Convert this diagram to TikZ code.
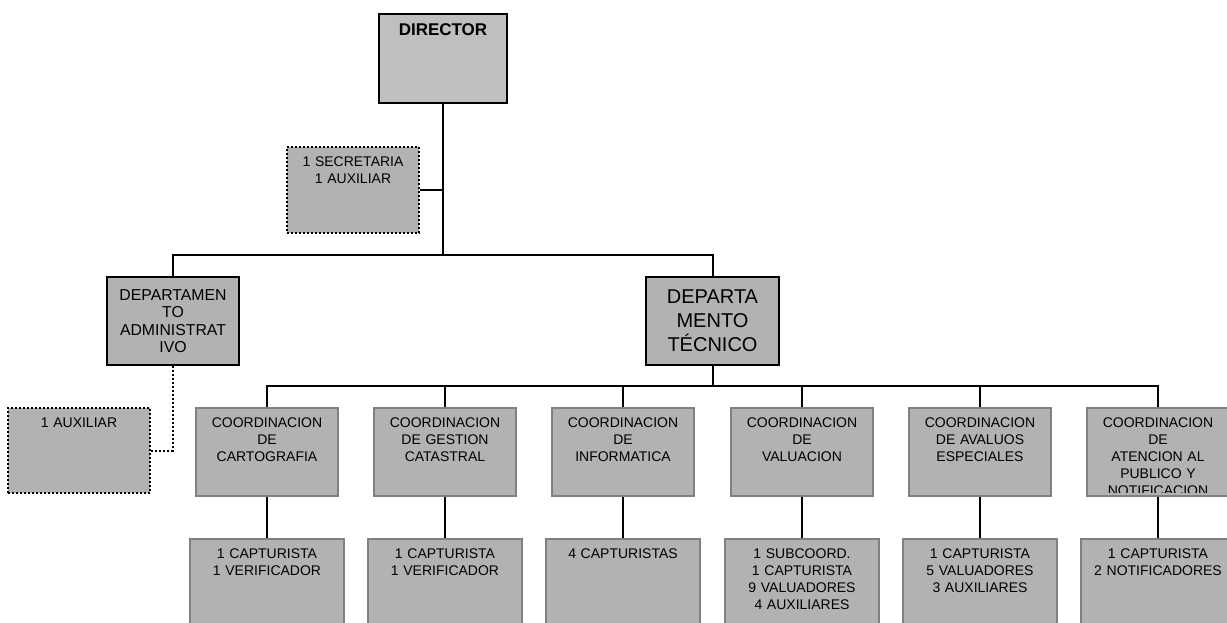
\documentclass[tikz,border=0pt]{standalone}
\usepackage{fontspec}
\setmainfont{Liberation Sans}
\usetikzlibrary{positioning}

\begin{document}
\begin{tikzpicture}[
  x=1pt, y=-1pt,
  txt/.style={inner xsep=0pt, inner ysep=9pt, text width=160pt, align=center,
              minimum width=0pt, minimum height=0pt, draw=none, fill=none,
              font=\fontsize{14}{16.9}\selectfont},
  toptxt/.style={path picture={
                 \clip ([yshift=4pt]path picture bounding box.south west)
                       rectangle (path picture bounding box.north east);
                 \node[txt, anchor=north] at (path picture bounding box.north) {#1};}},
  boss/.style={draw=black, line width=2.2pt, fill=black!25, inner sep=0pt,
               minimum width=128pt, minimum height=89pt},
  dept/.style={draw=black, line width=2.2pt, fill=black!30, inner sep=0pt,
               minimum width=132pt, minimum height=88pt, align=center,
               font=\fontsize{15.8}{17.4}\selectfont},
  staff/.style={draw=black, line width=2pt, dash pattern=on 2pt off 2pt,
                fill=black!30, inner sep=0pt, minimum width=132pt, minimum height=86pt},
  coord/.style={draw=black!50, line width=2.4pt, fill=black!30, inner sep=0pt,
                minimum width=142pt, minimum height=88pt},
  crew/.style={coord, minimum width=154pt, minimum height=110pt},
  ln/.style={draw=black, line width=2pt},
  dl/.style={draw=black, line width=2pt, dash pattern=on 2pt off 2pt},
]
\clip (0,0) rectangle (1227,623);

\def\rC{452}   % coordination row
\def\rS{594}   % staff row under each coordination

% ============ direction =====================================================
\node[boss, toptxt={\fontsize{17}{20}\selectfont\bfseries DIRECTOR}] (dir) at (443,58.5) {};
\node[staff, toptxt={1 SECRETARIA\\1 AUXILIAR}] (sec) at (353,190) {};

% ============ departments ===================================================
\node[dept] (adm) at (173,321) {DEPARTAMEN\\TO\\ADMINISTRAT\\IVO};
\node[dept, minimum width=133pt, font=\fontsize{20}{24}\selectfont]
  (tec) at (712.5,321) {DEPARTA\\MENTO\\TÉCNICO};
\node[staff, minimum width=142pt, minimum height=85pt, toptxt={1 AUXILIAR}]
  (aux) at (79,450.5) {};

% ============ coordinations =================================================
\node[coord, toptxt={COORDINACION\\DE\\CARTOGRAFIA}]          (c1) at (267,\rC)  {};
\node[coord, toptxt={COORDINACION\\DE GESTION\\CATASTRAL}]   (c2) at (445,\rC)  {};
\node[coord, toptxt={COORDINACION\\DE\\INFORMATICA}]          (c3) at (623,\rC)  {};
\node[coord, toptxt={COORDINACION\\DE\\VALUACION}]            (c4) at (802,\rC)  {};
\node[coord, toptxt={COORDINACION\\DE AVALUOS\\ESPECIALES}]  (c5) at (980,\rC)  {};
\node[coord, toptxt={COORDINACION\\DE\\ATENCION AL\\PUBLICO Y\\NOTIFICACION}]
                                                              (c6) at (1158,\rC) {};

% ============ staff =========================================================
\node[crew, toptxt={1 CAPTURISTA\\1 VERIFICADOR}]                          (s1) at (267,\rS)  {};
\node[crew, toptxt={1 CAPTURISTA\\1 VERIFICADOR}]                          (s2) at (445,\rS)  {};
\node[crew, toptxt={4 CAPTURISTAS}]                                        (s3) at (623,\rS)  {};
\node[crew, toptxt={1 SUBCOORD.\\1 CAPTURISTA\\9 VALUADORES\\4 AUXILIARES}] (s4) at (802,\rS)  {};
\node[crew, toptxt={1 CAPTURISTA\\5 VALUADORES\\3 AUXILIARES}]             (s5) at (980,\rS)  {};
\node[crew, toptxt={1 CAPTURISTA\\2 NOTIFICADORES}]                        (s6) at (1158,\rS) {};

% ============ lines =========================================================
\coordinate (busA) at (443,255);
\coordinate (busB) at (712.5,386);

\draw[ln] (dir.south) -- (busA);
\draw[ln] (sec.east) -- (sec.east -| busA);
\draw[ln] (adm.north) |- (busA) -| (tec.north);
\draw[ln] (tec.south) -- (busB);
\draw[ln] (c1.north) |- (busB) -| (c6.north);
\draw[ln] (c2.north) -- (c2.north |- busB);
\draw[ln] (c3.north) -- (c3.north |- busB);
\draw[ln] (c4.north) -- (c4.north |- busB);
\draw[ln] (c5.north) -- (c5.north |- busB);

\draw[ln] (c1.south) -- (s1.north);
\draw[ln] (c2.south) -- (s2.north);
\draw[ln] (c3.south) -- (s3.north);
\draw[ln] (c4.south) -- (s4.north);
\draw[ln] (c5.south) -- (s5.north);
\draw[ln] (c6.south) -- (s6.north);

\draw[dl] (adm.south) |- (aux.east);

\end{tikzpicture}
\end{document}
